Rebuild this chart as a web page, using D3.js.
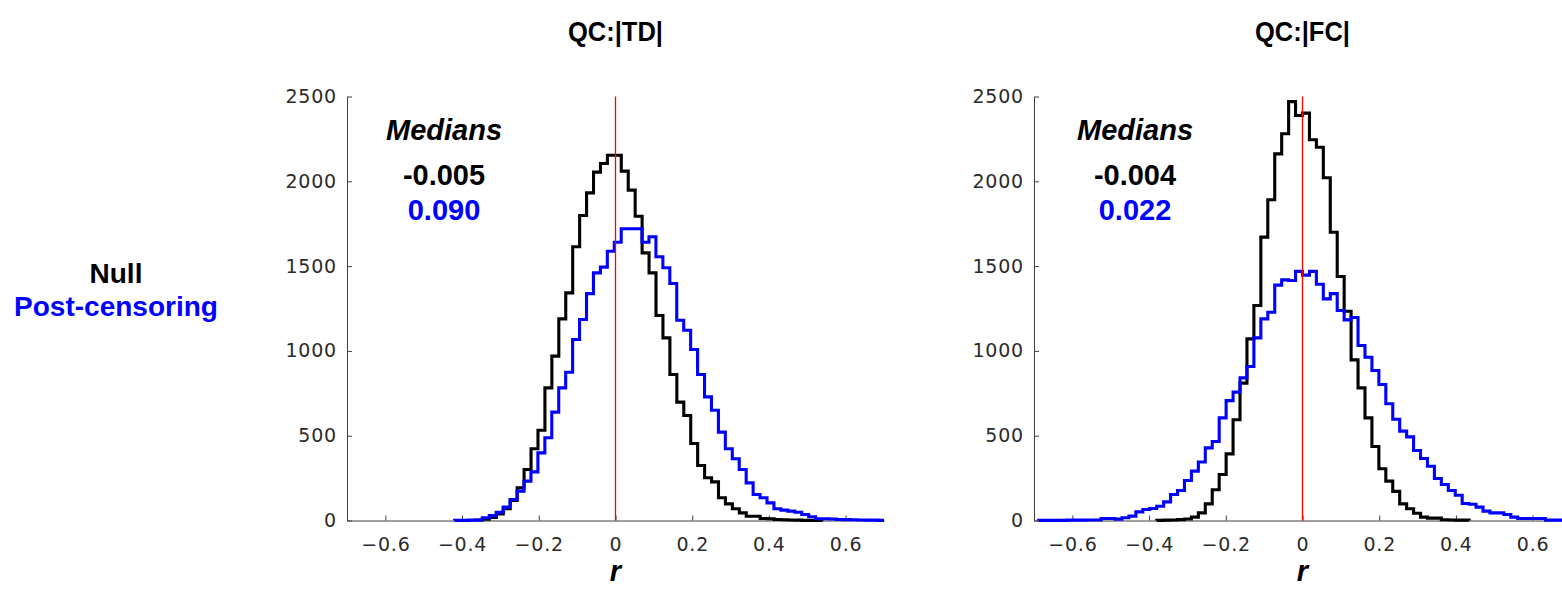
<html>
<head>
<meta charset="utf-8">
<style>
  body { margin: 0; background: #fff; }
  .tick text { font-family: "DejaVu Sans", sans-serif; font-size: 19px; fill: #2b2b2b; letter-spacing: 0.8px; }
  .bold { font-family: "Liberation Sans", Arial, sans-serif; font-weight: bold; }
</style>
</head>
<body>
<svg id="chart" width="1562" height="589"></svg>

<script src="https://d3js.org/d3.v7.min.js"></script>
<script>

// ---- data ----
var binW = 0.0181;                    // histogram bin width (r)
var xTicks = [-0.6, -0.4, -0.2, 0, 0.2, 0.4, 0.6];
var yTicks = [0, 500, 1000, 1500, 2000, 2500];

// QC:|TD|
var tdNullStart = -0.365;             // first bin edge, null
var tdNullCounts = [3, 8, 18, 38, 70, 118,
  193, 301, 423, 532, 782, 969, 1189, 1342, 1614, 1798, 1932, 2054, 2105, 2154, 2154,
  2060, 1948, 1794, 1578, 1460, 1209, 1077, 861, 698, 619, 454, 324, 252, 228, 134,
  98, 69, 45, 25, 25, 12, 10, 6, 4, 3, 2, 1, 1, 1];
var tdPostStart = -0.4195;            // first bin edge, post-censoring
var tdPostCounts = [1, 1, 2, 3, 16, 29, 49, 79, 124,
  173, 232, 287, 399, 488, 639, 782, 874, 1067, 1185, 1338, 1460, 1494, 1588, 1641,
  1720, 1720, 1720, 1641, 1673, 1555, 1490, 1397, 1181, 1122, 1008, 861, 729, 650,
  521, 423, 364, 301, 222, 153, 134, 104, 69, 61, 55, 49, 35, 22, 10, 10, 9, 6, 5,
  4, 3, 2, 2, 1];

// QC:|FC|
var fcNullStart = -21 * 0.0181;
var fcNullCounts = [1, 2, 3, 5, 9, 20, 45, 98, 181, 271, 393, 594, 810, 1071, 1268,
  1671, 1891, 2162, 2280, 2470, 2388, 2402, 2245, 2201, 2021, 1700, 1439, 1234, 947,
  782, 605, 436, 305, 232, 172, 98, 69, 43, 20, 14, 14, 4, 3, 2, 2];
var fcPostStart = -38 * 0.0181;
var fcPostCounts = [1, 1, 1, 1, 2, 2, 2, 3, 3,
  12, 12, 8, 16, 26, 51, 65, 71, 84, 110, 153, 177, 236, 291, 345, 428, 466, 605, 707,
  757, 841, 908, 1077, 1189, 1228, 1388, 1419, 1415, 1469, 1447, 1469, 1393, 1307,
  1338, 1238, 1183, 1197, 1032, 963, 884, 802, 688, 597, 527, 493, 413, 366, 320, 248,
  212, 177, 149, 100, 96, 79, 55, 45, 45, 35, 20, 12, 12, 12, 12, 2, 2, 2];

var panels = [
  {title: "QC:|TD|", x0: 347, x1: 884, nullStart: tdNullStart, nullCounts: tdNullCounts,
   postStart: tdPostStart, postCounts: tdPostCounts, medNull: "-0.005", medPost: "0.090", medX: 444},
  {title: "QC:|FC|", x0: 1034, x1: 1571, nullStart: fcNullStart, nullCounts: fcNullCounts,
   postStart: fcPostStart, postCounts: fcPostCounts, medNull: "-0.004", medPost: "0.022", medX: 1135}
];

var svg = d3.select("#chart");
var yTop = 96.5, yBot = 520.5;

// left legend
svg.append("text").attr("class", "bold").attr("x", 116).attr("y", 283)
  .attr("text-anchor", "middle").style("font-size", "28px").attr("fill", "#000").text("Null");
svg.append("text").attr("class", "bold").attr("x", 116).attr("y", 316)
  .attr("text-anchor", "middle").style("font-size", "28px").attr("fill", "#0000ff").text("Post-censoring");

// turns bin counts into stair points (MATLAB 'stairs' histogram)
function stairs(start, counts) {
  var pts = [{r: start, c: 0}];
  counts.forEach(function(c, i) { pts.push({r: start + i * binW, c: c}) });
  var end = start + counts.length * binW;
  pts.push({r: end, c: counts[counts.length - 1]});
  pts.push({r: end, c: 0});
  return pts;
}

var fmtX = d3.format("");      // gives −0.6 ... 0 ... 0.6
var fmtY = d3.format("d");     // 2500, no comma

panels.forEach(function(p, idx) {
  var x = d3.scaleLinear().domain([-0.7, 0.7]).range([p.x0, p.x1]);
  var y = d3.scaleLinear().domain([0, 2500]).range([yBot, yTop]);

  var g = svg.append("g");

  // clip to plot box like matlab does
  svg.append("clipPath").attr("id", "clip" + idx)
    .append("rect").attr("x", p.x0).attr("y", yTop - 5).attr("width", p.x1 - p.x0).attr("height", yBot - yTop + 10);

  var line = d3.line()
    .x(function(d) { return x(d.r) })
    .y(function(d) { return y(d.c) })
    .curve(d3.curveStepAfter);

  // axes (ticks point inward)
  g.append("g")
    .attr("transform", "translate(0," + yBot + ")")
    .call(d3.axisBottom(x).tickValues(xTicks).tickFormat(fmtX).tickSizeInner(-5).tickSizeOuter(0).tickPadding(17))
    .call(function(a) { a.select(".domain").attr("stroke", "#404040"); a.selectAll("line").attr("stroke", "#404040"); });

  g.append("g")
    .attr("transform", "translate(" + p.x0 + ",0)")
    .call(d3.axisLeft(y).tickValues(yTicks).tickFormat(fmtY).tickSizeInner(-5).tickSizeOuter(0).tickPadding(10))
    .call(function(a) { a.select(".domain").attr("stroke", "#404040"); a.selectAll("line").attr("stroke", "#404040"); });

  var plot = g.append("g").attr("clip-path", "url(#clip" + idx + ")");

  plot.append("path")
    .attr("d", line(stairs(p.nullStart, p.nullCounts)))
    .attr("fill", "none").attr("stroke", "#000").attr("stroke-width", 3.1);

  plot.append("path")
    .attr("d", line(stairs(p.postStart, p.postCounts)))
    .attr("fill", "none").attr("stroke", "#0000ff").attr("stroke-width", 3.1);

  // zero line
  g.append("line")
    .attr("x1", x(0)).attr("x2", x(0)).attr("y1", yTop).attr("y2", yBot)
    .attr("stroke", "#ff0000").attr("stroke-width", 1.3);

  // titles and labels
  g.append("text").attr("class", "bold").attr("x", (p.x0 + p.x1) / 2).attr("y", 41)
    .attr("text-anchor", "middle").style("font-size", "27px")
    .attr("textLength", 95).attr("lengthAdjust", "spacingAndGlyphs").text(p.title);

  g.append("text").attr("class", "bold").attr("x", p.medX).attr("y", 139.5)
    .attr("text-anchor", "middle").style("font-size", "29px").style("font-style", "italic").text("Medians");
  g.append("text").attr("class", "bold").attr("x", p.medX).attr("y", 184.5)
    .attr("text-anchor", "middle").style("font-size", "29px").text(p.medNull);
  g.append("text").attr("class", "bold").attr("x", p.medX).attr("y", 219.5)
    .attr("text-anchor", "middle").style("font-size", "29px").attr("fill", "#0000ff").text(p.medPost);

  g.append("text").attr("class", "bold").attr("x", x(0)).attr("y", 581)
    .attr("text-anchor", "middle").style("font-size", "29px").style("font-style", "italic").text("r");
});

</script>
</body>
</html>
